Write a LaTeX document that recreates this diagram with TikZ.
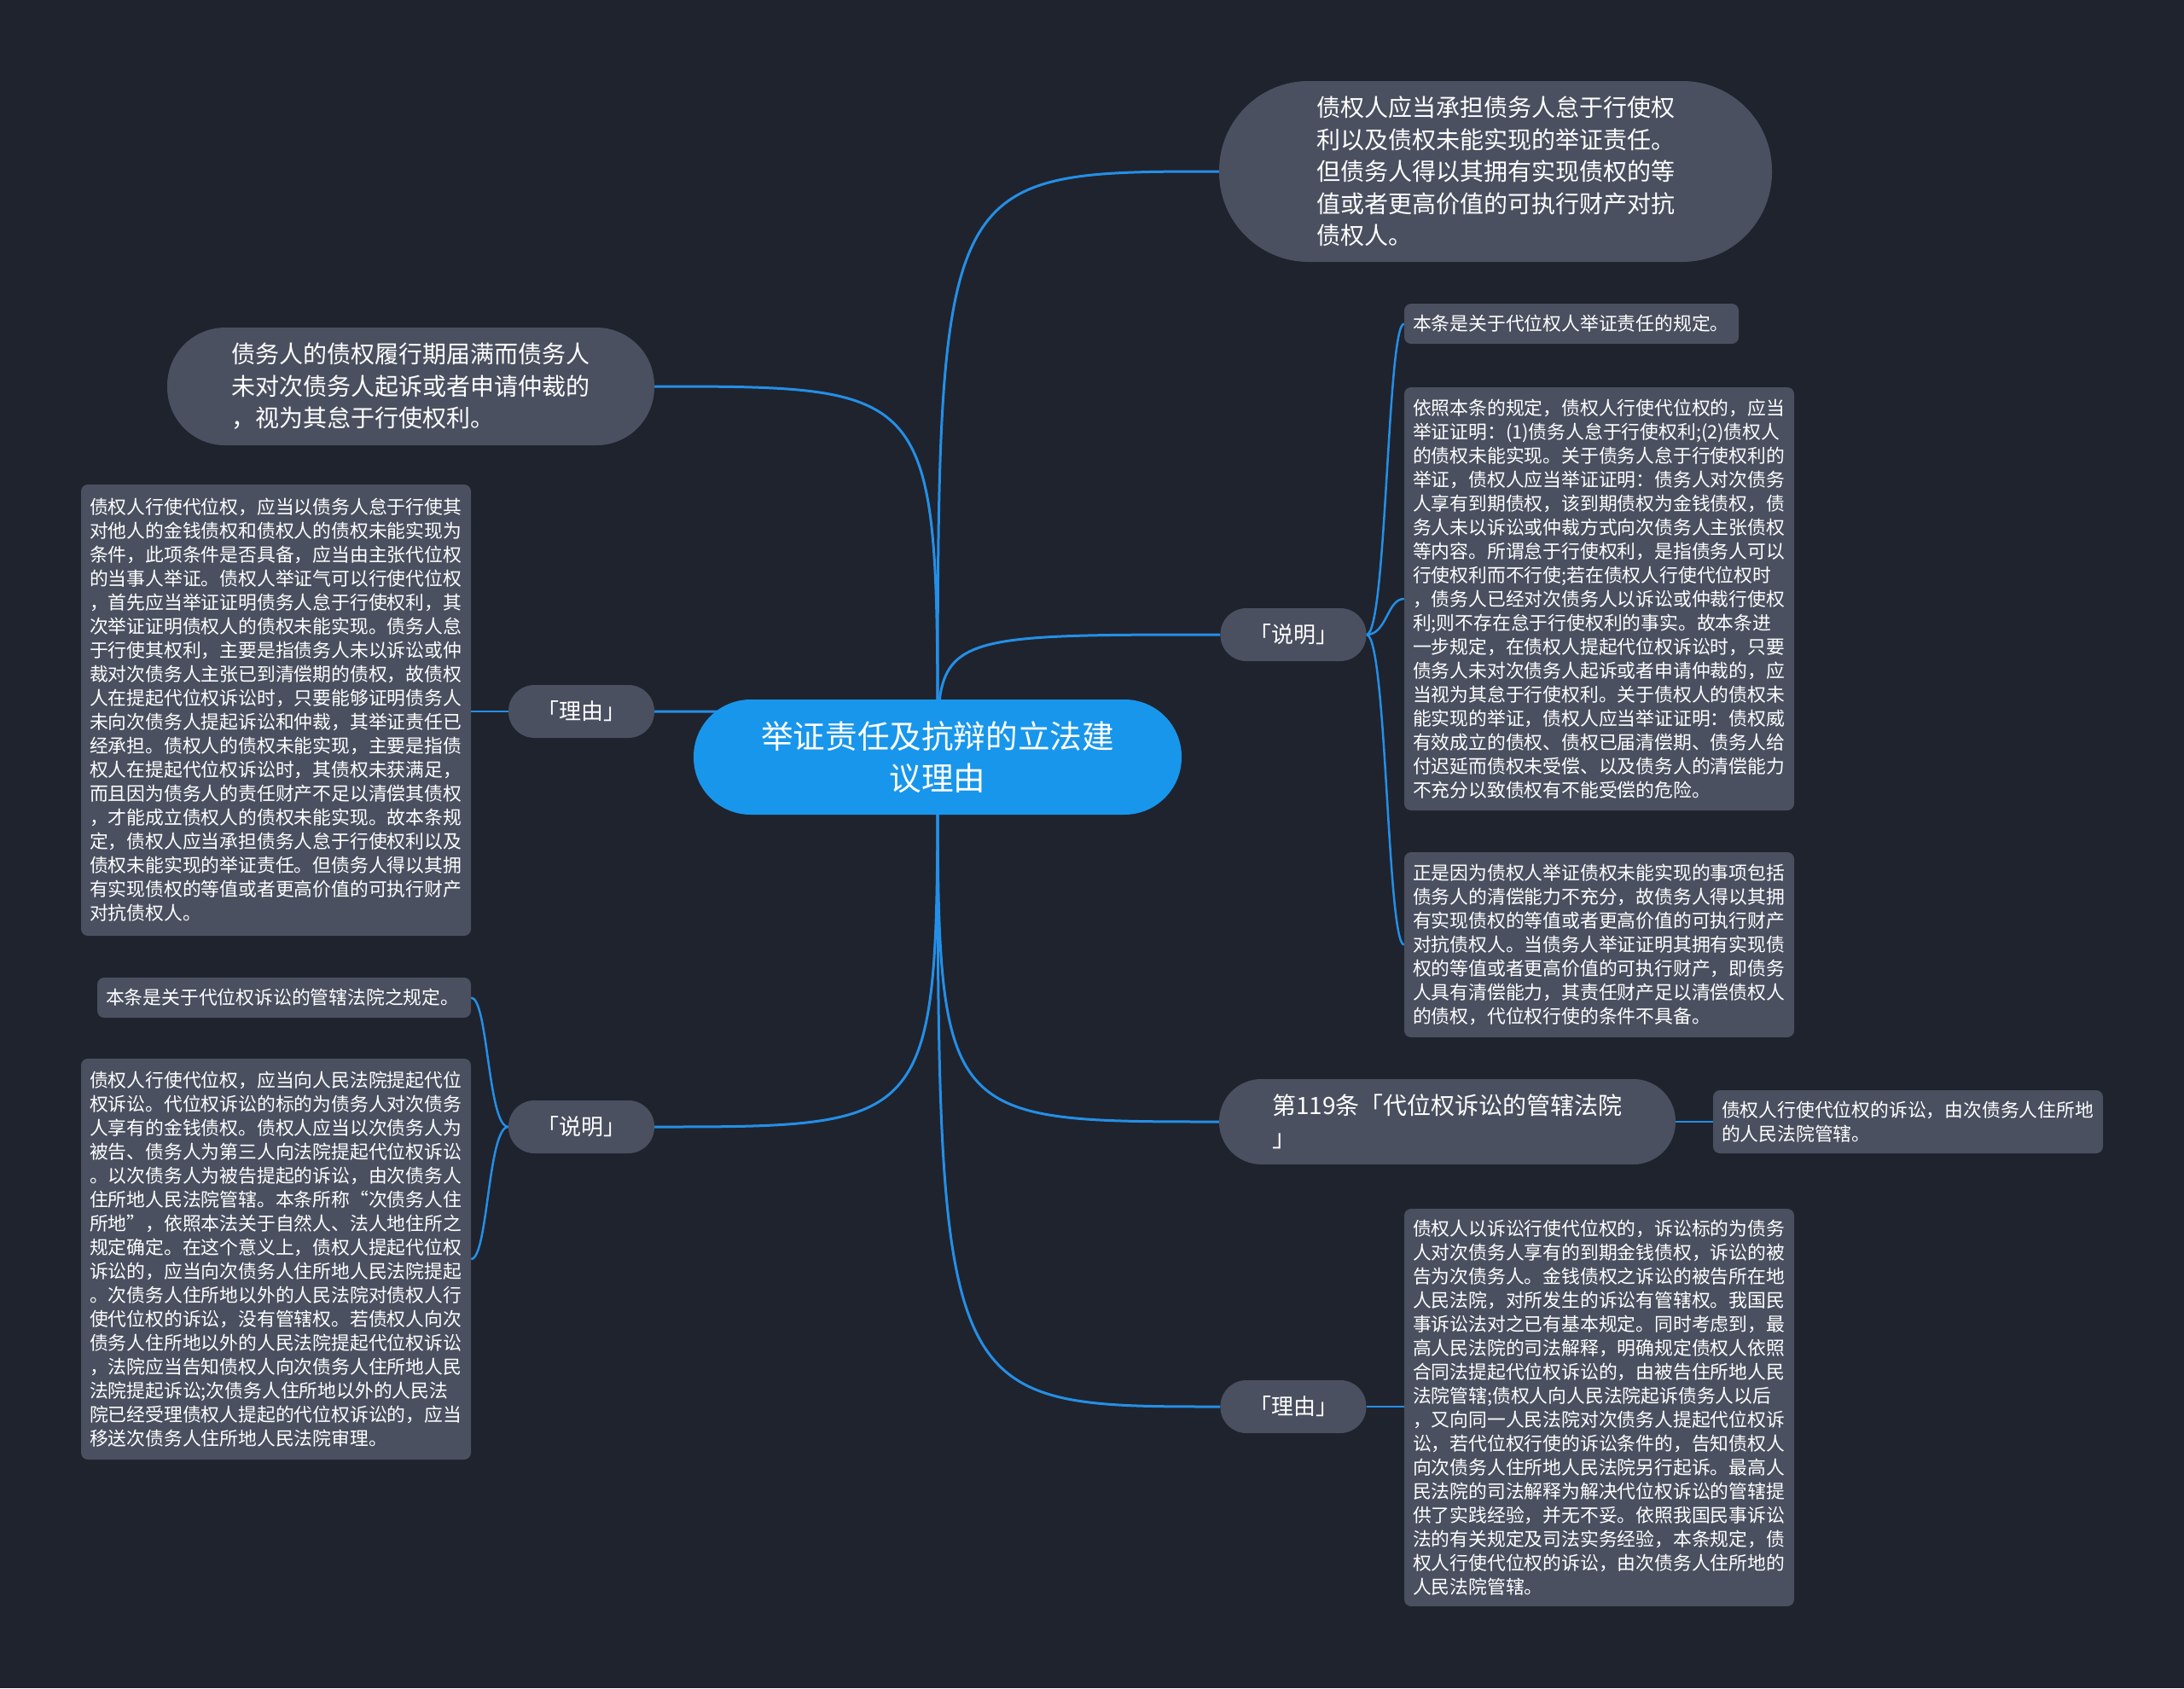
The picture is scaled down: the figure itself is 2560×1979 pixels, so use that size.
\documentclass[tikz,border=0pt]{standalone}
\usepackage{fontspec}
\newfontfamily\cjk{Noto Sans CJK SC}
\usetikzlibrary{calc}
\definecolor{bgcol}{RGB}{31,35,46}
\definecolor{nodecol}{RGB}{74,80,96}
\definecolor{rootcol}{RGB}{24,150,235}
\definecolor{linecol}{RGB}{36,143,230}
\pgfdeclarelayer{bgl}
\pgfdeclarelayer{edges}
\pgfsetlayers{bgl,edges,main}
\tikzset{
  smallbox/.style={fill=nodecol, rounded corners=8, text=white, font=\cjk\fontsize{21.8}{28}\selectfont, align=left, inner sep=10},
  bigbox/.style={fill=nodecol, text=white, font=\cjk\fontsize{28}{37.6}\selectfont, align=left, inner sep=0},
  labbox/.style={fill=nodecol, text=white, font=\cjk\fontsize{26}{30}\selectfont, minimum width=171, minimum height=62, rounded corners=30.5, inner sep=0},
  rootbox/.style={fill=rootcol, text=white, font=\cjk\fontsize{37.6}{49}\selectfont, align=center, inner sep=0, minimum width=572, minimum height=135, rounded corners=67},
  conn/.style={draw=linecol, line width=3},
  subconn/.style={draw=linecol, line width=2.5},
}
\begin{document}
\begin{tikzpicture}[x=1pt,y=-1pt]
\useasboundingbox (0,0) rectangle (2560,1979);
\begin{pgfonlayer}{bgl}
\fill[bgcol] (0,0) rectangle (2560,1979);
\end{pgfonlayer}

% root
\node[rootbox] (root) at (1099,887.5) {举证责任及抗辩的立法建\\议理由};

% level 1
\node[bigbox, minimum width=648, minimum height=212, rounded corners=105] (tr) at (1753,201) {债权人应当承担债务人怠于行使权\\利以及债权未能实现的举证责任。\\但债务人得以其拥有实现债权的等\\值或者更高价值的可执行财产对抗\\债权人。};
\node[bigbox, minimum width=571, minimum height=138, rounded corners=68] (lt) at (481.5,453) {债务人的债权履行期届满而债务人\\未对次债务人起诉或者申请仲裁的\\，视为其怠于行使权利。};
\node[labbox] (lreason) at (681.5,834) {「理由」};
\node[labbox] (lexpl) at (681.5,1321) {「说明」};
\node[labbox] (rexpl) at (1516,744) {「说明」};
\node[labbox] (rreason) at (1516,1649) {「理由」};
\node[bigbox, minimum width=535, minimum height=100, rounded corners=49.5] (n119) at (1696.5,1315) {第119条「代位权诉讼的管辖法院\\」};

% level 2
\node[smallbox, text width=437, minimum height=74] (n119c) at (2236.5,1315) {债权人行使代位权的诉讼，由次债务人住所地\\的人民法院管辖。};

\node[smallbox, text width=437, minimum height=529] (lrc) at (323.5,832.5) {债权人行使代位权，应当以债务人怠于行使其\\对他人的金钱债权和债权人的债权未能实现为\\条件，此项条件是否具备，应当由主张代位权\\的当事人举证。债权人举证气可以行使代位权\\，首先应当举证证明债务人怠于行使权利，其\\次举证证明债权人的债权未能实现。债务人怠\\于行使其权利，主要是指债务人未以诉讼或仲\\裁对次债务人主张已到清偿期的债权，故债权\\人在提起代位权诉讼时，只要能够证明债务人\\未向次债务人提起诉讼和仲裁，其举证责任已\\经承担。债权人的债权未能实现，主要是指债\\权人在提起代位权诉讼时，其债权未获满足，\\而且因为债务人的责任财产不足以清偿其债权\\，才能成立债权人的债权未能实现。故本条规\\定，债权人应当承担债务人怠于行使权利以及\\债权未能实现的举证责任。但债务人得以其拥\\有实现债权的等值或者更高价值的可执行财产\\对抗债权人。};

\node[smallbox, text width=418, minimum height=47] (le1) at (333,1169.5) {本条是关于代位权诉讼的管辖法院之规定。};
\node[smallbox, text width=437, minimum height=470] (le2) at (323.5,1476) {债权人行使代位权，应当向人民法院提起代位\\权诉讼。代位权诉讼的标的为债务人对次债务\\人享有的金钱债权。债权人应当以次债务人为\\被告、债务人为第三人向法院提起代位权诉讼\\。以次债务人为被告提起的诉讼，由次债务人\\住所地人民法院管辖。本条所称“次债务人住\\所地”，依照本法关于自然人、法人地住所之\\规定确定。在这个意义上，债权人提起代位权\\诉讼的，应当向次债务人住所地人民法院提起\\。次债务人住所地以外的人民法院对债权人行\\使代位权的诉讼，没有管辖权。若债权人向次\\债务人住所地以外的人民法院提起代位权诉讼\\，法院应当告知债权人向次债务人住所地人民\\法院提起诉讼;次债务人住所地以外的人民法\\院已经受理债权人提起的代位权诉讼的，应当\\移送次债务人住所地人民法院审理。};

\node[smallbox, text width=372, minimum height=47] (re1) at (1842,379.5) {本条是关于代位权人举证责任的规定。};
\node[smallbox, text width=437, minimum height=496] (re2) at (1874.5,702) {依照本条的规定，债权人行使代位权的，应当\\举证证明：(1)债务人怠于行使权利;(2)债权人\\的债权未能实现。关于债务人怠于行使权利的\\举证，债权人应当举证证明：债务人对次债务\\人享有到期债权，该到期债权为金钱债权，债\\务人未以诉讼或仲裁方式向次债务人主张债权\\等内容。所谓怠于行使权利，是指债务人可以\\行使权利而不行使;若在债权人行使代位权时\\，债务人已经对次债务人以诉讼或仲裁行使权\\利;则不存在怠于行使权利的事实。故本条进\\一步规定，在债权人提起代位权诉讼时，只要\\债务人未对次债务人起诉或者申请仲裁的，应\\当视为其怠于行使权利。关于债权人的债权未\\能实现的举证，债权人应当举证证明：债权威\\有效成立的债权、债权已届清偿期、债务人给\\付迟延而债权未受偿、以及债务人的清偿能力\\不充分以致债权有不能受偿的危险。};
\node[smallbox, text width=437, minimum height=217] (re3) at (1874.5,1107.5) {正是因为债权人举证债权未能实现的事项包括\\债务人的清偿能力不充分，故债务人得以其拥\\有实现债权的等值或者更高价值的可执行财产\\对抗债权人。当债务人举证证明其拥有实现债\\权的等值或者更高价值的可执行财产，即债务\\人具有清偿能力，其责任财产足以清偿债权人\\的债权，代位权行使的条件不具备。};

\node[smallbox, text width=437, minimum height=466] (rrc) at (1874.5,1650) {债权人以诉讼行使代位权的，诉讼标的为债务\\人对次债务人享有的到期金钱债权，诉讼的被\\告为次债务人。金钱债权之诉讼的被告所在地\\人民法院，对所发生的诉讼有管辖权。我国民\\事诉讼法对之已有基本规定。同时考虑到，最\\高人民法院的司法解释，明确规定债权人依照\\合同法提起代位权诉讼的，由被告住所地人民\\法院管辖;债权人向人民法院起诉债务人以后\\，又向同一人民法院对次债务人提起代位权诉\\讼，若代位权行使的诉讼条件的，告知债权人\\向次债务人住所地人民法院另行起诉。最高人\\民法院的司法解释为解决代位权诉讼的管辖提\\供了实践经验，并无不妥。依照我国民事诉讼\\法的有关规定及司法实务经验，本条规定，债\\权人行使代位权的诉讼，由次债务人住所地的\\人民法院管辖。};

% connectors
\begin{pgfonlayer}{edges}
\draw[conn] (root.center) .. controls (root.center |- tr.west) .. (tr.west);
\draw[conn] (root.center) .. controls (root.center |- lt.east) .. (lt.east);
\draw[conn] (root.center) .. controls (root.center |- lreason.east) .. (lreason.east);
\draw[conn] (root.center) .. controls (root.center |- rexpl.west) .. (rexpl.west);
\draw[conn] (root.center) .. controls (root.center |- lexpl.east) .. (lexpl.east);
\draw[conn] (root.center) .. controls (root.center |- n119.west) .. (n119.west);
\draw[conn] (root.center) .. controls (root.center |- rreason.west) .. (rreason.west);

\draw[subconn] (lreason.west) -- (lrc.east |- lreason.west);
\draw[subconn] (rreason.east) -- (rrc.west |- rreason.east);
\draw[subconn] (n119.east) -- (n119c.west |- n119.east);
\draw[subconn] (rexpl.east) .. controls +(24,0) and +(-20,0) .. (re1.west);
\draw[subconn] (rexpl.east) .. controls +(24,0) and +(-20,0) .. (re2.west);
\draw[subconn] (rexpl.east) .. controls +(24,0) and +(-20,0) .. (re3.west);
\draw[subconn] (lexpl.west) .. controls +(-24,0) and +(20,0) .. (le1.east);
\draw[subconn] (lexpl.west) .. controls +(-24,0) and +(20,0) .. (le2.east);
\end{pgfonlayer}
\end{tikzpicture}
\end{document}
